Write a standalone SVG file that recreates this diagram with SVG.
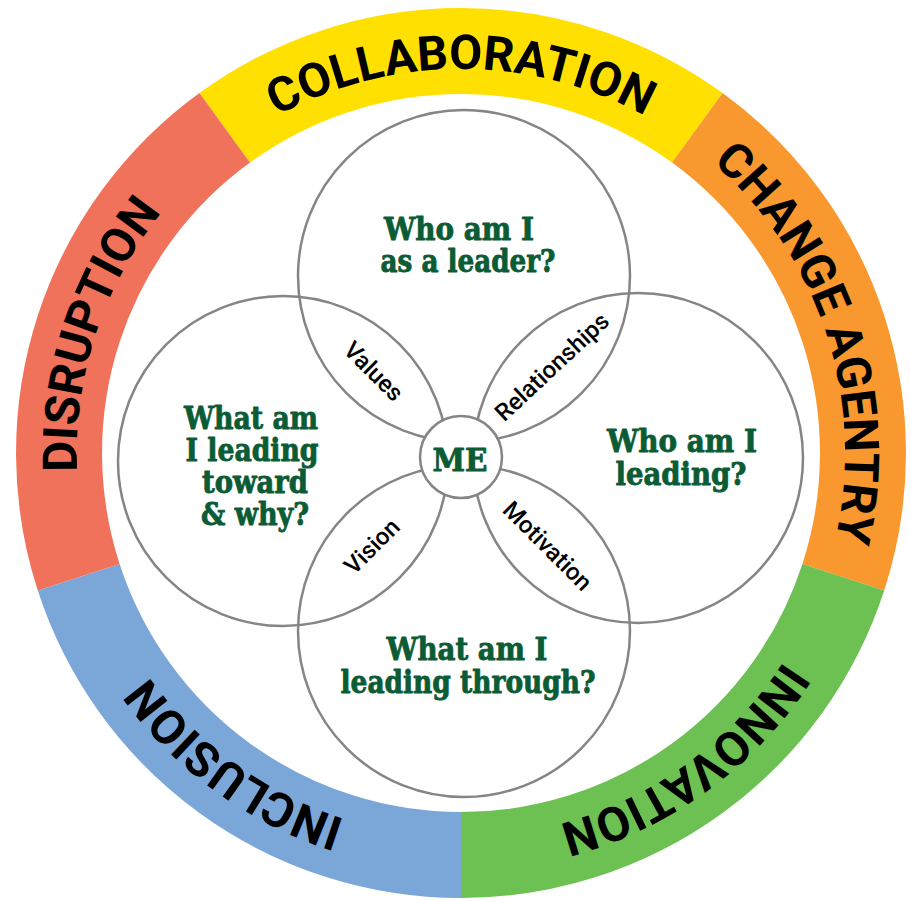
<svg xmlns="http://www.w3.org/2000/svg" xmlns:xlink="http://www.w3.org/1999/xlink" width="910" height="901" viewBox="0 0 910 901">
<style>
.seg{fill:none;stroke-width:86}
.ring-label{font-family:Roboto,"Liberation Sans",sans-serif;font-weight:700;font-size:48px;fill:#000}
.circ{fill:none;stroke:#858585;stroke-width:2.5}
.q{font-family:"DejaVu Serif","Liberation Serif",serif;font-weight:700;font-size:32px;fill:#0b5b34;stroke:#0b5b34;stroke-width:0.9;stroke-linejoin:round;text-anchor:middle}
.petal{font-family:Roboto,"Liberation Sans",sans-serif;font-weight:500;font-size:24px;fill:#000;text-anchor:middle}
</style>
<defs>
<path id="ringPath" d="M235.3,142.3 A384,384 0 1 1 686.7,763.7 A384,384 0 1 1 235.3,142.3"/>
</defs>
<rect width="910" height="901" fill="#fff"/>
<g id="ring">
<path class="seg" stroke="#ffe000" d="M224.7,127.8 A402,402 0 0 1 697.3,127.8"/>
<path class="seg" stroke="#f8982f" d="M697.3,127.8 A402,402 0 0 1 843.3,577.2"/>
<path class="seg" stroke="#6dc052" d="M843.3,577.2 A402,402 0 0 1 461,855"/>
<path class="seg" stroke="#7ba6d8" d="M461,855 A402,402 0 0 1 78.7,577.2"/>
<path class="seg" stroke="#f1725a" d="M78.7,577.2 A402,402 0 0 1 224.7,127.8"/>
<text class="ring-label"><textPath xlink:href="#ringPath" href="#ringPath" startOffset="10%" text-anchor="middle">COLLABORATION</textPath></text>
<text class="ring-label"><textPath xlink:href="#ringPath" href="#ringPath" startOffset="30%" text-anchor="middle">CHANGE AGENTRY</textPath></text>
<text class="ring-label"><textPath xlink:href="#ringPath" href="#ringPath" startOffset="50%" text-anchor="middle">INNOVATION</textPath></text>
<text class="ring-label"><textPath xlink:href="#ringPath" href="#ringPath" startOffset="70%" text-anchor="middle">INCLUSION</textPath></text>
<text class="ring-label"><textPath xlink:href="#ringPath" href="#ringPath" startOffset="90%" text-anchor="middle">DISRUPTION</textPath></text>
</g>
<g id="node-top">
<circle class="circ" cx="464" cy="276" r="166"/>
<text class="q" x="459" y="240" textLength="150" lengthAdjust="spacingAndGlyphs">Who am I</text>
<text class="q" x="468" y="272" textLength="175" lengthAdjust="spacingAndGlyphs">as a leader?</text>
</g>
<g id="node-left">
<circle class="circ" cx="283" cy="461" r="165"/>
<text class="q" x="251" y="429" textLength="134" lengthAdjust="spacingAndGlyphs">What am</text>
<text class="q" x="252" y="461" textLength="133" lengthAdjust="spacingAndGlyphs">I leading</text>
<text class="q" x="255" y="493" textLength="106" lengthAdjust="spacingAndGlyphs">toward</text>
<text class="q" x="255" y="525" textLength="108" lengthAdjust="spacingAndGlyphs">&amp; why?</text>
</g>
<g id="node-right">
<circle class="circ" cx="638" cy="458" r="165"/>
<text class="q" x="682" y="452" textLength="150" lengthAdjust="spacingAndGlyphs">Who am I</text>
<text class="q" x="681" y="485" textLength="131" lengthAdjust="spacingAndGlyphs">leading?</text>
</g>
<g id="node-bottom">
<circle class="circ" cx="464" cy="631" r="166"/>
<text class="q" x="467" y="660" textLength="161" lengthAdjust="spacingAndGlyphs">What am I</text>
<text class="q" x="468" y="693" textLength="255" lengthAdjust="spacingAndGlyphs">leading through?</text>
</g>
<g id="petal-values"><text class="petal" transform="translate(373.5,371.5) rotate(45)" y="8">Values</text></g>
<g id="petal-relationships"><text class="petal" transform="translate(552,367) rotate(-43)" y="8">Relationships</text></g>
<g id="petal-motivation"><text class="petal" transform="translate(547.5,546) rotate(45)" y="8">Motivation</text></g>
<g id="petal-vision"><text class="petal" transform="translate(372,546.5) rotate(-45)" y="8">Vision</text></g>
<g id="node-me">
<circle cx="461" cy="457" r="41" fill="#fff" stroke="#858585" stroke-width="2.5"/>
<text class="q" x="460" y="471" textLength="55" lengthAdjust="spacingAndGlyphs">ME</text>
</g>
<g id="connectors"/>
</svg>
